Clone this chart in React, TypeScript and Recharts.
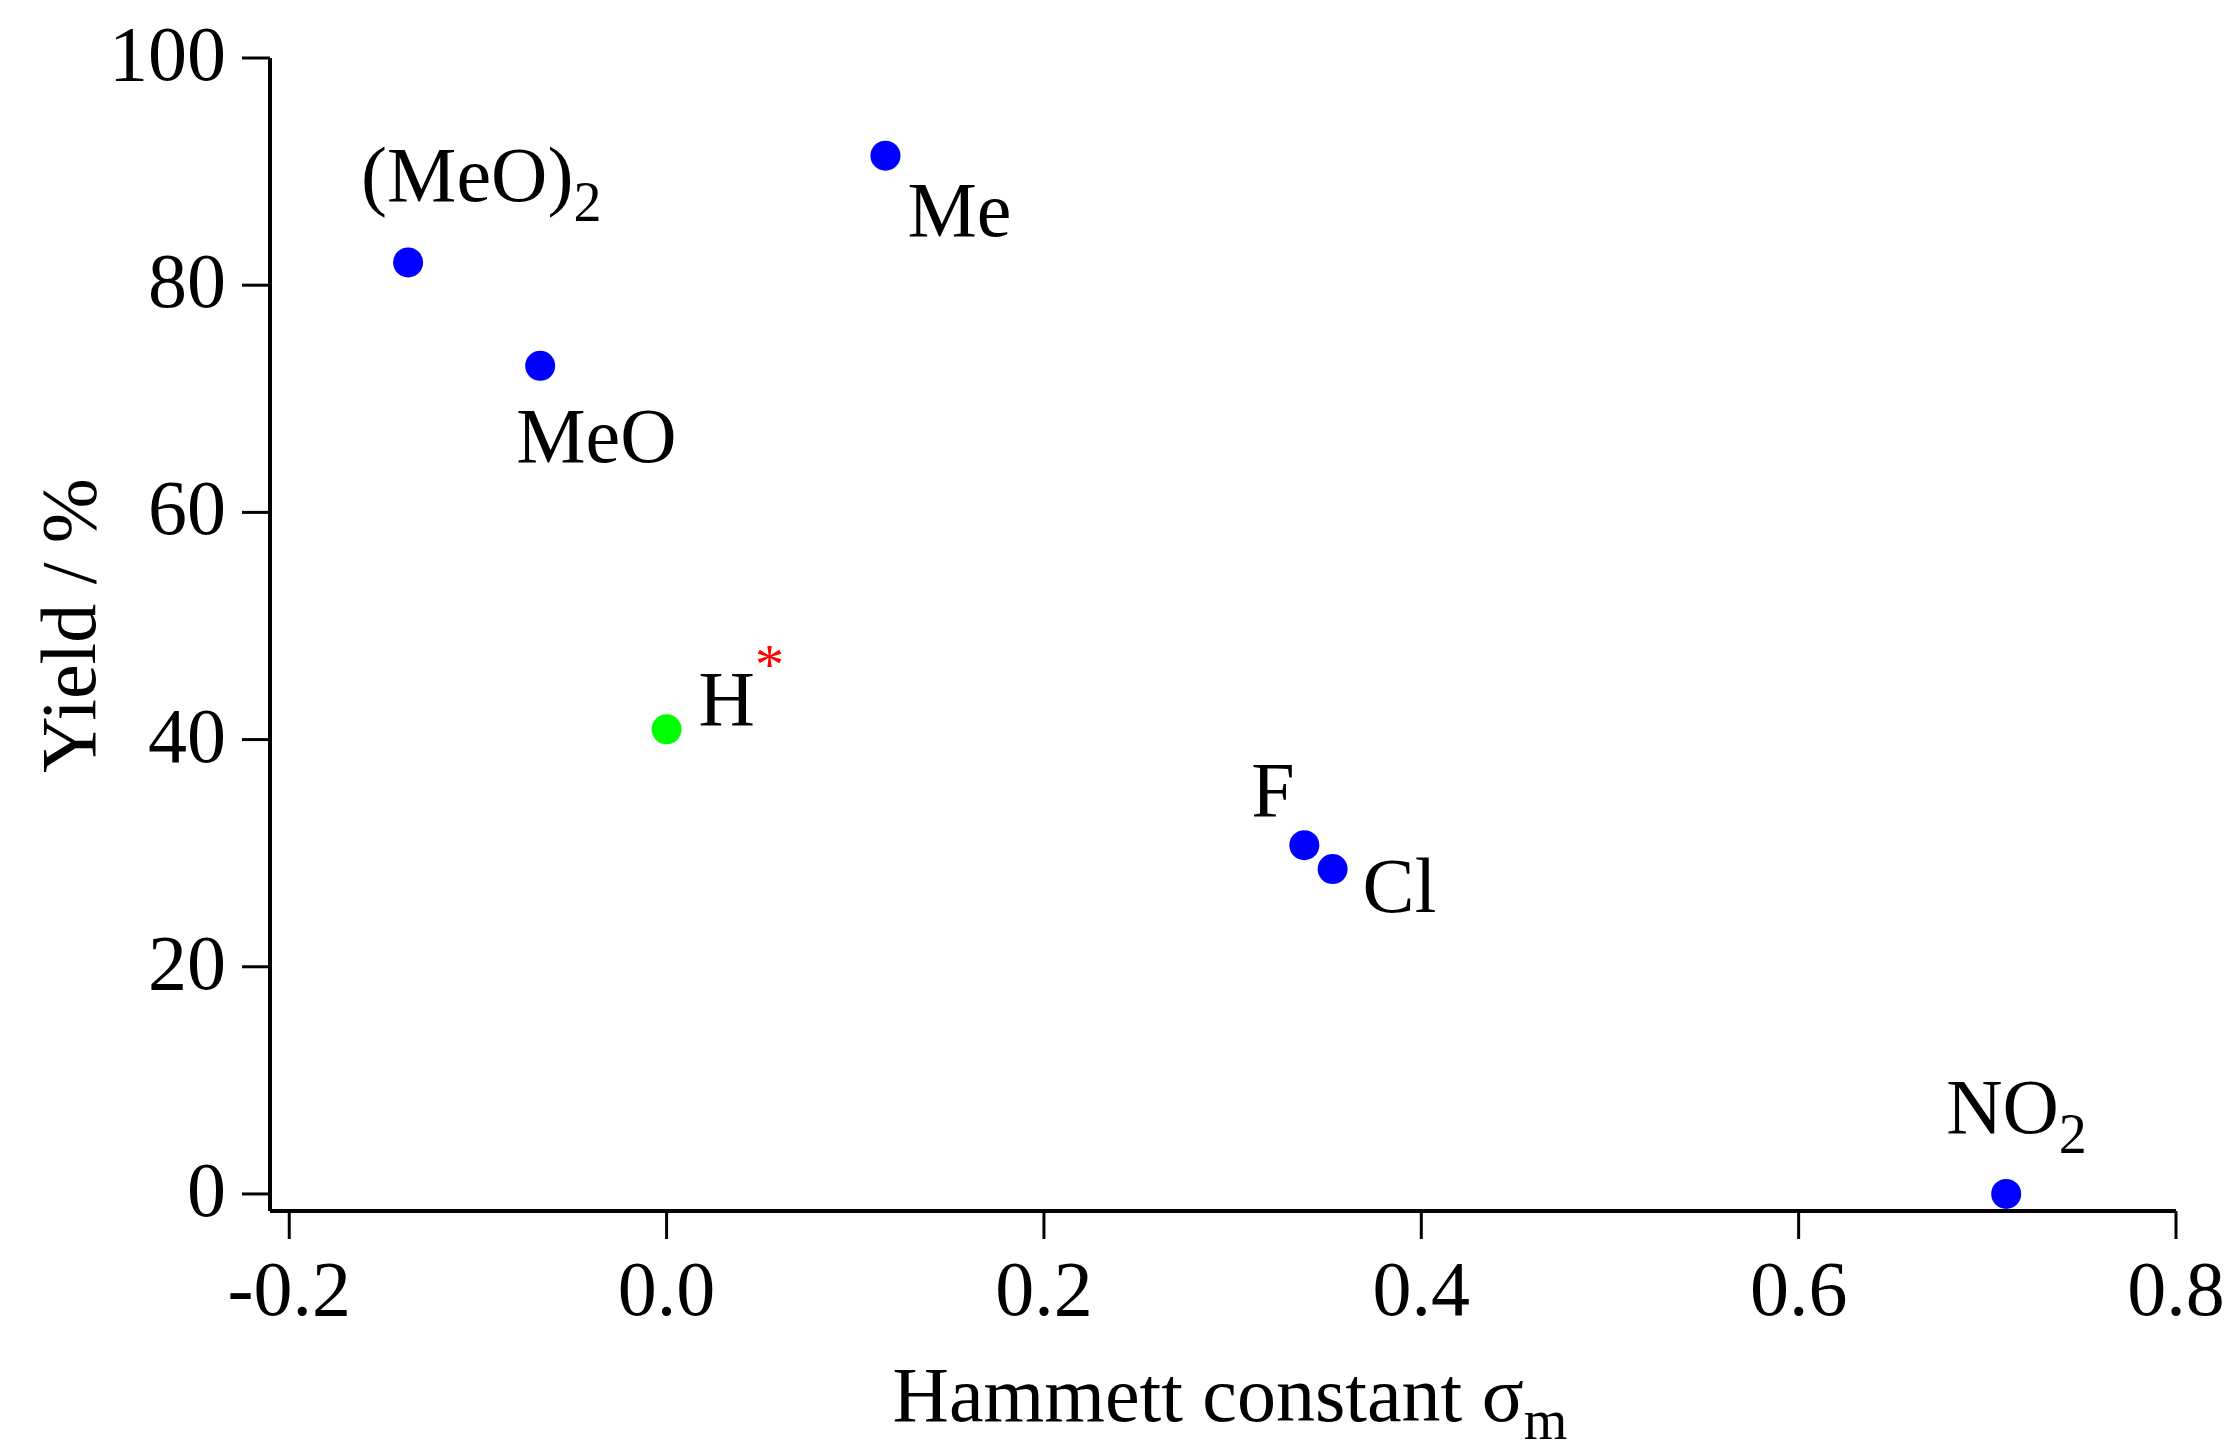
import { ScatterChart, Scatter, XAxis, YAxis, Label } from "recharts";

// substituent, Hammett sigma_m, yield (%)
const substituents = ["(MeO)2", "MeO", "H", "Me", "F", "Cl", "NO2"];
const sigmaM = [-0.137, -0.067, 0.0, 0.116, 0.338, 0.353, 0.71];
const yieldPct = [82.0, 72.9, 40.9, 91.4, 30.7, 28.6, 0];
const referenceName = "H"; // unsubstituted reference, drawn in green

const xTicks = [-0.2, 0.0, 0.2, 0.4, 0.6, 0.8];
const yTicks = [0, 20, 40, 60, 80, 100];

const points = substituents.map((name, i) => ({
  name,
  x: sigmaM[i],
  y: yieldPct[i],
}));
const bluePoints = points.filter((p) => p.name !== referenceName);
const greenPoints = points.filter((p) => p.name === referenceName);

const FONT = '"Liberation Serif", "Times New Roman", serif';
const FS = 78;
const SUB = 56;

// label placement relative to the dot centre (left edge, baseline)
const labelOffset: Record<string, [number, number]> = {
  "(MeO)2": [-47, -61],
  MeO: [-24, 96],
  H: [32, -4],
  Me: [22, 80],
  F: [-53, -29],
  Cl: [30, 43],
  NO2: [-60, -61],
};

function PointLabel({ name, cx, cy }: { name: string; cx: number; cy: number }) {
  const [dx, dy] = labelOffset[name] ?? [20, 0];
  const m = name.match(/^(.*?)(\d)$/);
  const main = m ? m[1] : name;
  const sub = m ? m[2] : null;
  return (
    <text x={cx + dx} y={cy + dy} fontFamily={FONT} fontSize={FS} fill="#000">
      {main}
      {sub && (
        <tspan fontSize={SUB} dy={20}>
          {sub}
        </tspan>
      )}
      {name === referenceName && (
        <tspan fontSize={58} dy={-41} fill="#ff0000">
          *
        </tspan>
      )}
    </text>
  );
}

const makeDot = (color: string) => (props: any) => {
  const { cx, cy, payload } = props;
  return (
    <g>
      <circle cx={cx} cy={cy} r={15} fill={color} />
      <PointLabel name={payload.name} cx={cx} cy={cy} />
    </g>
  );
};

const XTick = (props: any) => {
  const { x, y, payload } = props;
  return (
    <text x={x} y={y + 76} textAnchor="middle" fontFamily={FONT} fontSize={FS} fill="#000">
      {Number(payload.value).toFixed(1)}
    </text>
  );
};

const YTick = (props: any) => {
  const { x, y, payload } = props;
  return (
    <text x={x} y={y + 22} textAnchor="end" fontFamily={FONT} fontSize={FS} fill="#000">
      {payload.value}
    </text>
  );
};

export default function App() {
  return (
    <div style={{ position: "absolute", left: 0, top: 0, background: "#fff" }}>
      <ScatterChart
        width={2231}
        height={1456}
        margin={{ top: 58, right: 55, bottom: 0, left: 0 }}
      >
        <XAxis
          type="number"
          dataKey="x"
          domain={[-0.2102, 0.8]}
          ticks={xTicks}
          allowDataOverflow
          height={245}
          tickSize={28}
          tickMargin={0}
          axisLine={{ stroke: "#000", strokeWidth: 4 }}
          tickLine={{ stroke: "#000", strokeWidth: 3 }}
          tick={<XTick />}
        >
          <Label
            content={(props: any) => {
              const vb = props.viewBox;
              return (
                <text
                  x={vb.x + vb.width / 2 + 7}
                  y={vb.y + 210}
                  textAnchor="middle"
                  fontFamily={FONT}
                  fontSize={FS}
                  fill="#000"
                >
                  Hammett constant σ
                  <tspan fontSize={56} dy={18}>
                    m
                  </tspan>
                </text>
              );
            }}
          />
        </XAxis>
        <YAxis
          type="number"
          dataKey="y"
          domain={[-1.5, 100]}
          ticks={yTicks}
          allowDataOverflow
          width={270}
          tickSize={28}
          tickMargin={16}
          axisLine={{ stroke: "#000", strokeWidth: 4 }}
          tickLine={{ stroke: "#000", strokeWidth: 3 }}
          tick={<YTick />}
        >
          <Label
            content={(props: any) => {
              const vb = props.viewBox;
              const cy = vb.y + vb.height / 2 - 9;
              return (
                <text
                  x={95}
                  y={cy}
                  transform={`rotate(-90, 95, ${cy})`}
                  textAnchor="middle"
                  fontFamily={FONT}
                  fontSize={FS}
                  fill="#000"
                >
                  Yield / %
                </text>
              );
            }}
          />
        </YAxis>
        <Scatter
          data={bluePoints}
          shape={makeDot("#0000ff")}
          isAnimationActive={false}
        />
        <Scatter
          data={greenPoints}
          shape={makeDot("#00ff00")}
          isAnimationActive={false}
        />
      </ScatterChart>
    </div>
  );
}
